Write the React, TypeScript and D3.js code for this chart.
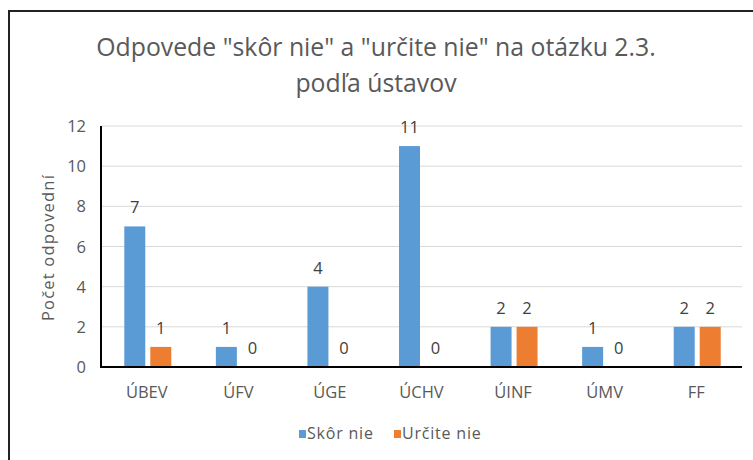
import React, { useEffect, useRef } from 'react';
import * as d3 from 'd3';

const categories = ['ÚBEV', 'ÚFV', 'ÚGE', 'ÚCHV', 'ÚINF', 'ÚMV', 'FF'];
const skorNie = [7, 1, 4, 11, 2, 1, 2];
const urciteNie = [1, 0, 0, 0, 2, 0, 2];
const seriesNames = ['Skôr nie', 'Určite nie'];
const seriesColors = ['#5b9bd5', '#ed7d31'];
const yTicks = [0, 2, 4, 6, 8, 10, 12];

const W = 753;
const H = 460;
const FONT = "'Open Sans', sans-serif";
const TXT = '#595959';

const App = () => {
    const svgRef = useRef<SVGSVGElement>(null);

    useEffect(() => {
        const svg = d3.select(svgRef.current);
        svg.selectAll('*').remove();

        const left = 101, right = 742, top = 126, bottom = 367;

        // outer frame, only top and left show in the crop
        svg.append('path')
            .attr('d', `M9,${H} L9,11 L${W},11`)
            .attr('fill', 'none')
            .attr('stroke', '#222')
            .attr('stroke-width', 2);

        svg.append('text')
            .attr('x', 376)
            .attr('y', 56)
            .attr('text-anchor', 'middle')
            .style('font-family', FONT)
            .style('font-size', '24.8px')
            .style('fill', TXT)
            .text('Odpovede "skôr nie" a "určite nie" na otázku 2.3.');
        svg.append('text')
            .attr('x', 376)
            .attr('y', 92)
            .attr('text-anchor', 'middle')
            .style('font-family', FONT)
            .style('font-size', '24.8px')
            .style('fill', TXT)
            .text('podľa ústavov');

        const x = d3.scaleBand().domain(categories).range([left, right]);
        const y = d3.scaleLinear().domain([0, 12]).range([bottom, top]);

        // gridlines
        svg.append('g').selectAll('line')
            .data(yTicks.filter(d => d > 0))
            .enter()
            .append('line')
            .attr('x1', left)
            .attr('x2', right)
            .attr('y1', d => y(d))
            .attr('y2', d => y(d))
            .attr('stroke', '#d9d9d9')
            .attr('stroke-width', 1);

        svg.append('g').selectAll('text')
            .data(yTicks)
            .enter()
            .append('text')
            .attr('x', 86)
            .attr('y', d => y(d) + 6)
            .attr('text-anchor', 'end')
            .style('font-family', FONT)
            .style('font-size', '16.5px')
            .style('fill', TXT)
            .text(d => d);

        svg.append('text')
            .attr('transform', `translate(54,${(top + bottom) / 2 + 1}) rotate(-90)`)
            .attr('text-anchor', 'middle')
            .style('font-family', FONT)
            .style('font-size', '16.5px')
            .style('letter-spacing', '1.2px')
            .style('fill', TXT)
            .text('Počet odpovední');

        const barW = 21, gap = 5;
        const series = [skorNie, urciteNie];
        series.forEach((vals, si) => {
            const g = svg.append('g');
            const bx = (c: string) => x(c)! + x.bandwidth() / 2 - barW - gap / 2 + 1 + si * (barW + gap);
            g.selectAll('rect')
                .data(categories)
                .enter()
                .append('rect')
                .attr('x', c => bx(c))
                .attr('y', (c, i) => y(vals[i]))
                .attr('width', barW)
                .attr('height', (c, i) => bottom - y(vals[i]))
                .attr('fill', seriesColors[si]);
            g.selectAll('text')
                .data(categories)
                .enter()
                .append('text')
                .attr('x', c => bx(c) + barW / 2)
                .attr('y', (c, i) => y(vals[i]) - 13)
                .attr('text-anchor', 'middle')
                .style('font-family', FONT)
                .style('font-size', '16.5px')
                .style('fill', '#404040')
                .text((c, i) => vals[i]);
        });

        // axes lines
        svg.append('line')
            .attr('x1', left).attr('x2', left)
            .attr('y1', top).attr('y2', bottom + 1)
            .attr('stroke', '#000').attr('stroke-width', 2);
        svg.append('line')
            .attr('x1', left - 1).attr('x2', right)
            .attr('y1', bottom).attr('y2', bottom)
            .attr('stroke', '#000').attr('stroke-width', 2);

        svg.append('g').selectAll('text')
            .data(categories)
            .enter()
            .append('text')
            .attr('x', c => x(c)! + x.bandwidth() / 2)
            .attr('y', 398)
            .attr('text-anchor', 'middle')
            .style('font-family', FONT)
            .style('font-size', '16.5px')
            .style('fill', TXT)
            .text(c => c);

        // legend
        const legendX = [299, 394];
        seriesNames.forEach((name, i) => {
            svg.append('rect')
                .attr('x', legendX[i])
                .attr('y', 430)
                .attr('width', 7)
                .attr('height', 8)
                .attr('fill', seriesColors[i]);
            svg.append('text')
                .attr('x', legendX[i] + 8)
                .attr('y', 439)
                .style('font-family', FONT)
                .style('font-size', '16px')
                .style('letter-spacing', '0.8px')
                .style('fill', TXT)
                .text(name);
        });
    }, []);

    return (
        <svg ref={svgRef} width={W} height={H} style={{ position: 'absolute', left: 0, top: 0, background: '#fff' }} />
    );
};

export default App;
